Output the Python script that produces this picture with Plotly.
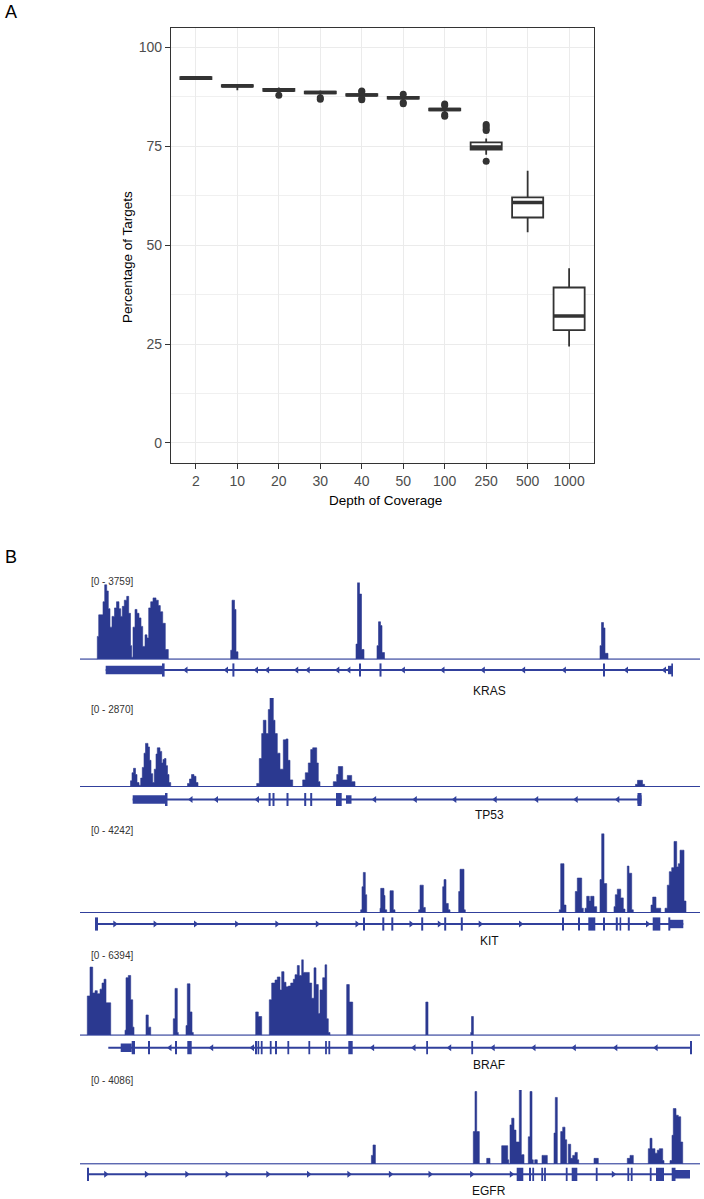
import plotly.graph_objects as go

W, H = 704, 1199
FONT = "Liberation Sans, Arial, Helvetica, sans-serif"

# ---------------- Panel A data ----------------
depth_labels = ["2", "10", "20", "30", "40", "50", "100", "250", "500", "1000"]
box_q1 = [92.0, 90.1, 89.0, 88.4, 87.8, 87.1, 84.1, 74.2, 57.0, 28.5]
box_median = [92.3, 90.3, 89.2, 88.6, 88.0, 87.3, 84.3, 74.8, 60.8, 32.1]
box_q3 = [92.5, 90.5, 89.5, 88.8, 88.2, 87.5, 84.5, 76.0, 62.1, 39.3]
box_low = [91.8, 89.2, 88.6, 88.0, 87.4, 86.7, 83.6, 72.9, 53.3, 24.4]
box_high = [92.7, 90.7, 89.9, 89.1, 88.5, 87.9, 85.0, 77.0, 68.8, 44.2]
outlier_depth = ["20", "30", "30", "40", "40", "40", "40", "50", "50", "50",
                 "100", "100", "100", "100", "250", "250", "250", "250", "250"]
outlier_value = [87.9, 87.3, 86.9, 89.0, 88.8, 86.8, 87.1, 88.2, 86.1, 85.8,
                 85.7, 85.3, 83.0, 82.6, 80.5, 80.0, 79.4, 79.0, 71.2]

# ---------------- Panel B data ----------------
# coverage breakpoints (relative position) and coverage as % of the track data range
KRAS_cov_x = [17.3, 18.7, 23, 24.7, 26.7, 28.3, 30, 32, 34.5, 36.5, 39, 40.7, 42.3, 44.3, 46.7, 48.7,
              50.5, 51.7, 53, 55, 57, 59, 61, 62.7, 65, 67, 68.7, 70.7, 73, 76, 78.3, 80.3, 82.7, 85.3, 88.3,
              150.7, 152, 154.5, 156, 158,
              276, 277.5, 279.5, 281.5, 284,
              297, 298.5, 300.5, 302, 304.5,
              520, 521.5, 523.5, 525, 528]
KRAS_cov_pct = [30, 58, 75, 97, 89, 66, 42, 56, 67, 75, 66, 56, 69, 77, 82, 60,
                18, 3, 42, 65, 60, 54, 43, 17, 32, 28, 67, 75, 80, 77, 70, 62, 47, 13, 0,
                12, 77, 65, 10, 0,
                20, 100, 85, 13, 0,
                18, 49, 44, 9, 0,
                18, 48, 41, 8, 0]
TP53_cov_x = [50.5, 52, 53.5, 55.5, 57, 59, 60.7, 62.3, 64, 65.5, 68, 69.5, 71, 72.7, 74.3, 76, 77.3,
              80, 81.7, 83, 84.5, 86, 87.5, 89, 90.7,
              107.5, 109.5, 111.5, 114, 116, 118,
              176.7, 179.3, 181.7, 183.3, 186, 188.3, 190, 193.3, 195, 197.3, 200, 203.3, 206, 208, 210, 212.7,
              222.7, 225.3, 228.3, 230.7, 232.7, 236.7, 238.3, 240,
              253.3, 256.7, 258.3, 262.7, 265, 267.3, 271.7, 275,
              555.5, 557.5, 562.5, 564.6]
TP53_cov_pct = [7, 16, 21, 14, 5, 2, 10, 22, 38, 49, 45, 30, 15, 5, 20, 37, 44,
                40, 27, 31, 32, 24, 14, 5, 0,
                4, 9, 14, 12, 5, 0,
                4, 32, 60, 75, 60, 87, 100, 75, 60, 38, 20, 53, 54, 30, 8, 0,
                8, 16, 27, 42, 44, 27, 6, 0,
                6, 14, 23, 8, 8, 13, 6, 0,
                3, 7.5, 3, 0]
KIT_cov_x = [280.7, 282, 283.3, 285.3, 286.7,
             300, 300.7, 304, 305, 306.7,
             310, 313.3, 315,
             338.7, 340, 343.3, 345.3,
             362.7, 364, 366, 368.3, 370,
             378.7, 380, 384, 385.3,
             479.3, 480.7, 484, 486,
             495.3, 497.3, 501.7, 503.3,
             505, 506.7, 509.3, 510.7, 514, 516.7,
             520, 521.7, 524, 526.7,
             534, 535.3, 537.3, 540.7, 543.3, 545,
             547.3, 549, 551.7, 553.3,
             571, 572.7, 576, 580.7,
             585, 587.3, 589.3, 591.7, 594, 596.7, 598.3, 600, 604, 606]
KIT_cov_pct = [4, 33, 51, 23, 0,
               6, 31, 22, 4, 0,
               28, 4, 0,
               4, 35, 7, 0,
               33, 42, 12, 4, 0,
               27, 55, 4, 0,
               4, 62, 10, 0,
               27, 44, 6, 0,
               6, 21, 15, 21, 8, 0,
               42, 100, 37, 0,
               8, 23, 30, 19, 5, 0,
               59, 50, 4, 0,
               10, 20, 6, 0,
               6, 35, 52, 57, 90, 58, 62, 79, 15, 0]
BRAF_cov_x = [7.3, 10, 12.7, 15, 17.3, 20, 22, 24, 26, 30.7,
              45, 46, 48.3, 50.7, 52.7, 54,
              66, 68.3, 70.7,
              93.3, 95, 97.3, 98.3,
              106, 107.3, 110, 112, 113.3,
              175.7, 178.3, 181.7,
              189.3, 191.7, 195, 197.3, 200, 201.7, 204, 206, 208.3, 210.7, 213.3, 215, 217.3, 219.3,
              221.7, 223.3, 229.3, 231.7, 234, 236, 238.3, 240, 242.7, 245, 246.7, 248.3, 250,
              266.7, 269.3, 272.7,
              345.8, 348,
              390.7, 391.5, 393.4]
BRAF_cov_pct = [52, 90, 56, 59, 55, 61, 69, 74, 43, 0,
                7, 76, 79, 47, 11, 0,
                27, 11, 0,
                22, 62, 4, 0,
                13, 68, 31, 4, 0,
                31, 25, 0,
                47, 69, 73, 77, 60, 84, 70, 64, 65, 69, 74, 80, 92, 79,
                100, 83, 69, 49, 89, 67, 29, 60, 76, 93, 22, 4, 0,
                67, 44, 0,
                44, 0,
                4, 25, 0]
EGFR_cov_x = [291.4, 293, 295.4,
              393.3, 395, 396.7, 399.3,
              406.7, 410,
              421.7, 427.7, 428.7,
              430, 431.7, 434, 436, 439.3, 441.3, 444,
              448.3, 450, 452, 453.3,
              454.7, 457.3,
              462, 467.3,
              474, 475.3, 477.3,
              480.7, 482.7, 485, 486.7,
              488.3, 490.7, 492.7, 495, 497.3, 498.7,
              514, 518.3,
              547.3, 550, 553.3,
              568.3, 570, 572, 575, 577.3, 579.3, 582.7, 584,
              590, 592, 593.3, 596, 598.3, 600.7, 602.7]
EGFR_cov_pct = [12, 26, 0,
                44, 98, 44, 0,
                8, 0,
                25, 6, 0,
                53, 62, 46, 30, 100, 13, 0,
                37, 98, 6, 0,
                6, 0,
                12, 0,
                42, 90, 0,
                44, 50, 33, 0,
                27, 8, 12, 16, 6, 0,
                8, 0,
                8, 12, 0,
                21, 35, 21, 15, 19, 21, 5, 0,
                5, 39, 75, 66, 64, 30, 0]

# gene models: span, UTR blocks, coding blocks, strand arrows
KRAS_span = [25.7, 593]
KRAS_utr = [[25.7, 83], [588, 593]]
KRAS_cds = [[82, 84.6], [152.4, 154.4], [279, 281], [299.5, 301.5], [523, 525], [591.3, 593]]
KRAS_arrows = [106, 146.5, 176.5, 187.6, 216.7, 228.2, 257.8, 268.9, 323.4, 363, 403.3, 443.6, 484.4, 546.5, 584.5]
TP53_span = [52.7, 561.5]
TP53_utr = [[52.7, 86], [266, 271.5], [557.5, 561.5]]
TP53_cds = [[85, 87.5], [188.6, 190.6], [192.5, 194.5], [206.5, 208.5], [224.2, 226.2], [230.2, 232.2], [256, 261.7], [557.5, 561.5]]
TP53_arrows = [111, 136.5, 177.5, 294.6, 335.3, 374.8, 415.2, 456.7, 496.2, 537.8]
KIT_span = [15.8, 603.3]
KIT_utr = [[589.3, 603.3]]
KIT_cds = [[15, 18], [283, 285], [302.3, 304.3], [311.3, 313.3], [341.2, 343.2], [364.2, 366.2], [380.8, 382.8],
           [482, 484], [498, 500], [508.3, 515.3], [523, 525], [535.8, 537.8], [539.6, 541.2], [547.8, 549.8],
           [572.7, 580.3], [588.3, 590.3]]
KIT_arrows = [34.8, 75.1, 115.5, 156.6, 196.9, 237.3, 277, 331, 359.3, 400.2, 440.5, 567.5]
BRAF_span = [28.3, 611.5]
BRAF_utr = [[40.7, 51.7]]
BRAF_cds = [[51.7, 55], [68, 70], [95, 97], [107.3, 111.7], [175, 177], [177.6, 179.2], [180.8, 182.6],
            [189.8, 191.6], [195, 197], [207.4, 209.2], [228.4, 230.2], [245.1, 246.9], [248.4, 250.2],
            [268.3, 272.7], [346.2, 348], [391.3, 393.1], [610, 612]]
BRAF_arrows = [90, 131.7, 172.5, 292.6, 334, 369.7, 413.2, 454, 494.3, 535.8, 576.1]
EGFR_span = [7.9, 610]
EGFR_utr = [[595, 610]]
EGFR_cds = [[7, 9], [436.7, 443.3], [449, 451], [452.3, 454.1], [461.3, 463.1], [464.1, 465.9], [485.8, 487.6],
            [491.7, 497.3], [515.8, 517.6], [547.4, 549.2], [550.8, 552.6], [569.8, 571.6], [576, 584], [591.7, 595.5]]
EGFR_arrows = [25.7, 66.4, 106.8, 147.1, 187.8, 228.5, 268.9, 310.4, 350, 391.6, 431.3, 533.3]

track_genes = ["KRAS", "TP53", "KIT", "BRAF", "EGFR"]
track_max = [3759, 2870, 4242, 6394, 4086]
track_strand = ["-", "-", "+", "-", "+"]

# ---------------- geometry / styles (pixels) ----------------
COV = "#2B3990"
LINE = "#31409C"
DARK = "#333333"

def xp(p):
    return p / W

def yp(p):
    return 1 - p / H

# baseline, top, gene line, range-label y, gene-name y
track_px = [
    (659.5, 582.5, 670.0, 581.0, 691.0),
    (787.0, 698.0, 799.5, 709.0, 814.5),
    (913.0, 833.5, 924.0, 830.0, 940.5),
    (1035.5, 959.5, 1047.7, 955.0, 1065.0),
    (1164.3, 1090.0, 1174.3, 1080.0, 1190.5),
]
TRACK_X0, TRACK_X1 = 80, 700
TRACK_LEN = 620

fig = go.Figure()
layout = {}
shapes = []
annotations = []


def label(text, x, y, size, color="black", xanchor="center", angle=0):
    annotations.append(dict(text=text, x=xp(x), y=yp(y), xref="paper", yref="paper",
                            xanchor=xanchor, yanchor="middle", textangle=angle, showarrow=False,
                            font=dict(size=size, color=color, family=FONT)))


# ---------------- Panel A ----------------
xi = list(range(len(depth_labels)))
BOXW = 0.75
fig.add_trace(go.Box(
    x=xi, q1=box_q1, median=box_median, q3=box_q3,
    lowerfence=box_low, upperfence=box_high,
    width=BOXW, whiskerwidth=0, boxpoints=False,
    fillcolor="white", line=dict(color=DARK, width=1.8),
    xaxis="x", yaxis="y", showlegend=False, hoverinfo="skip"))
med_x, med_y = [], []
for i, m in zip(xi, box_median):
    med_x += [i - BOXW / 2, i + BOXW / 2, None]
    med_y += [m, m, None]
fig.add_trace(go.Scatter(x=med_x, y=med_y, mode="lines", line=dict(color=DARK, width=3.6),
                         xaxis="x", yaxis="y", showlegend=False, hoverinfo="skip"))
fig.add_trace(go.Scatter(x=[depth_labels.index(d) for d in outlier_depth], y=outlier_value,
                         mode="markers", marker=dict(color=DARK, size=7),
                         xaxis="x", yaxis="y", showlegend=False, hoverinfo="skip"))

layout["xaxis"] = dict(domain=[xp(171), xp(594)], range=[-0.6, 9.6], anchor="y",
                       tickvals=xi, ticktext=depth_labels, ticks="outside", ticklen=5,
                       tickcolor=DARK, tickwidth=1.1,
                       tickfont=dict(size=14, color="#4D4D4D", family=FONT),
                       showgrid=True, gridcolor="#EBEBEB", gridwidth=1.2,
                       showline=True, mirror=True, linecolor=DARK, linewidth=1.2, zeroline=False)
layout["yaxis"] = dict(domain=[yp(462.7), yp(27.7)], range=[-5, 105], anchor="x",
                       tickvals=[0, 25, 50, 75, 100], ticks="outside", ticklen=5,
                       tickcolor=DARK, tickwidth=1.1,
                       tickfont=dict(size=14, color="#4D4D4D", family=FONT),
                       showgrid=True, gridcolor="#EBEBEB", gridwidth=1.2,
                       minor=dict(tickvals=[12.5, 37.5, 62.5, 87.5], showgrid=True,
                                  gridcolor="#F0F0F0", gridwidth=0.8),
                       showline=True, mirror=True, linecolor=DARK, linewidth=1.2, zeroline=False)

label("Percentage of Targets", 128, 257, 13.5, angle=-90)
label("Depth of Coverage", 385, 500, 13.5)
label("A", 3, 12, 18, xanchor="left")
label("B", 3, 557.5, 18, xanchor="left")

# ---------------- Panel B ----------------
cov_x_all = [KRAS_cov_x, TP53_cov_x, KIT_cov_x, BRAF_cov_x, EGFR_cov_x]
cov_pct_all = [KRAS_cov_pct, TP53_cov_pct, KIT_cov_pct, BRAF_cov_pct, EGFR_cov_pct]
span_all = [KRAS_span, TP53_span, KIT_span, BRAF_span, EGFR_span]
utr_all = [KRAS_utr, TP53_utr, KIT_utr, BRAF_utr, EGFR_utr]
cds_all = [KRAS_cds, TP53_cds, KIT_cds, BRAF_cds, EGFR_cds]
arrows_all = [KRAS_arrows, TP53_arrows, KIT_arrows, BRAF_arrows, EGFR_arrows]

UTR_H = 0.42
CDS_H = 0.66
for t, gene in enumerate(track_genes):
    base, top, gline, lab_y, name_y = track_px[t]
    xn = "x%d" % (t + 2)
    yc = "y%d" % (2 * t + 2)
    yg = "y%d" % (2 * t + 3)
    rng = track_max[t]
    layout["xaxis%d" % (t + 2)] = dict(domain=[xp(TRACK_X0), xp(TRACK_X1)], range=[0, TRACK_LEN],
                                       anchor=yc, visible=False, fixedrange=True)
    layout["yaxis%d" % (2 * t + 2)] = dict(domain=[yp(base), yp(top)], range=[0, rng], anchor=xn,
                                           visible=False, fixedrange=True)
    layout["yaxis%d" % (2 * t + 3)] = dict(domain=[yp(gline + 10), yp(gline - 10)], range=[-1, 1],
                                           anchor=xn, visible=False, fixedrange=True)
    # coverage
    xs = [0] + list(cov_x_all[t]) + [TRACK_LEN]
    ys = [0] + [p / 100 * rng for p in cov_pct_all[t]] + [0]
    fig.add_trace(go.Scatter(x=xs, y=ys, mode="lines", line_shape="hv", fill="tozeroy",
                             fillcolor=COV, line=dict(color=COV, width=0.6),
                             xaxis=xn, yaxis=yc, showlegend=False, hoverinfo="skip"))
    # baseline
    shapes.append(dict(type="line", xref=xn + " domain", yref=yc, x0=0, x1=1, y0=0, y1=0,
                       line=dict(color=LINE, width=2)))
    # intron line
    s0, s1 = span_all[t]
    shapes.append(dict(type="line", xref=xn, yref=yg, x0=s0, x1=s1, y0=0, y1=0,
                       line=dict(color=LINE, width=2)))
    for a, b in utr_all[t]:
        shapes.append(dict(type="rect", xref=xn, yref=yg, x0=a, x1=b, y0=-UTR_H, y1=UTR_H,
                           fillcolor=LINE, line=dict(width=0)))
    for a, b in cds_all[t]:
        shapes.append(dict(type="rect", xref=xn, yref=yg, x0=a, x1=b, y0=-CDS_H, y1=CDS_H,
                           fillcolor=LINE, line=dict(width=0)))
    sym = "triangle-left" if track_strand[t] == "-" else "triangle-right"
    fig.add_trace(go.Scatter(x=arrows_all[t], y=[0] * len(arrows_all[t]), mode="markers",
                             marker=dict(symbol=sym, size=6, color=LINE, line=dict(width=0)),
                             xaxis=xn, yaxis=yg, showlegend=False, hoverinfo="skip"))
    label("[0 - %d]" % rng, 89, lab_y, 10, color="#333333", xanchor="left")
    label(gene, 489, name_y, 12, color="#111111")

fig.update_layout(width=W, height=H, margin=dict(l=0, r=0, t=0, b=0, pad=0),
                  paper_bgcolor="white", plot_bgcolor="white",
                  font=dict(family=FONT), showlegend=False,
                  shapes=shapes, annotations=annotations, **layout)
fig.write_html("out.html", config={"displayModeBar": False},
               post_script="document.body.style.margin='0';document.body.style.overflow='hidden';")
